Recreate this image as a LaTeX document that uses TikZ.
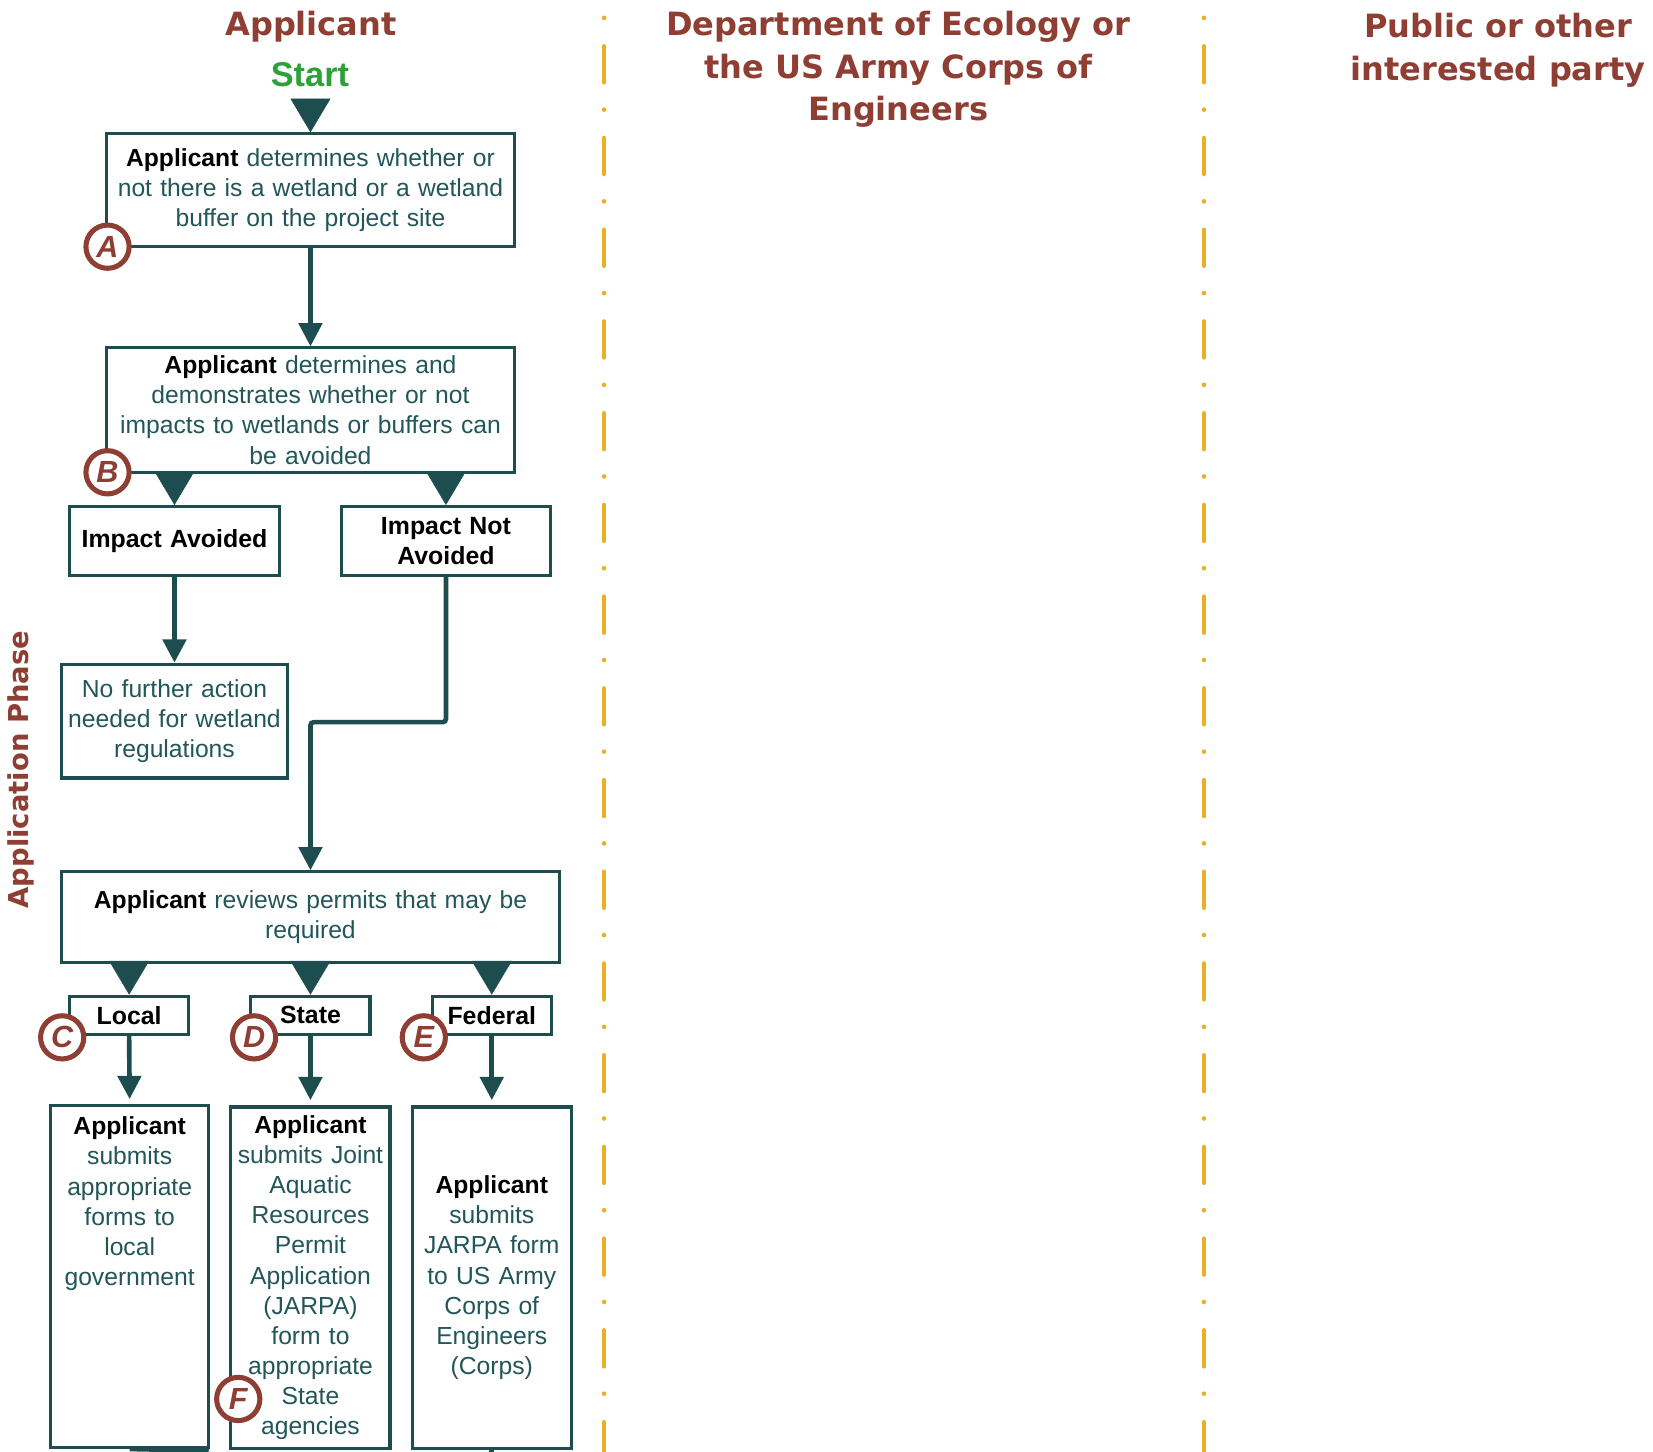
\documentclass[tikz,border=0pt]{standalone}
\usepackage{fontspec}
\setmainfont{Liberation Sans}
\newfontfamily\hdrfont{DejaVu Sans}
\usetikzlibrary{arrows.meta}
\definecolor{tealc}{HTML}{1D4D4F}
\definecolor{tealtext}{HTML}{22575A}
\definecolor{brownc}{HTML}{8E3E33}
\definecolor{greenc}{HTML}{2EA03A}
\definecolor{yelc}{HTML}{EBAF24}
\newcommand{\appl}{\textcolor{black}{\textbf{Applicant}}}
\begin{document}
\begin{tikzpicture}[x=0.5pt,y=-0.5pt,
  box/.style={draw=tealc, line width=1.5pt, fill=white, inner sep=0pt, align=center, text=tealtext, font=\fontsize{11.7}{14.3}\selectfont},
  plain/.style={inner sep=0pt, align=center, text=tealtext, font=\fontsize{11.7}{14.3}\selectfont},
  bbox/.style={box, text=black, font=\bfseries\fontsize{11.8}{14.3}\selectfont},
  lbl/.style={circle, draw=brownc, line width=2.4pt, fill=white, minimum size=20.5pt, inner sep=0pt, text=brownc, font=\fontsize{14.5}{15}\selectfont\bfseries\itshape},
  conn/.style={draw=tealc, line width=2.2pt, -{Triangle[width=11pt,length=11pt]}},
  bigtip/.style={draw=tealc, fill=tealc, line width=0.2pt, -{Triangle[width=19pt,length=16pt]}},
  hdr/.style={text=brownc, font=\hdrfont\bfseries\fontsize{15.2}{20.25}\selectfont, align=center},
  lane/.style={draw=yelc, line width=2.2pt, line cap=round, dash pattern=on 0pt off 13.5pt on 17pt off 13pt}
]
\useasboundingbox (0,0) rectangle (1568,1377);

% swimlane separators
\coordinate (l1t) at (573,17);
\coordinate (l1b) at (573,1377);
\coordinate (l2t) at (1142,17);
\coordinate (l2b) at (1142,1377);
\draw[lane] (l1t) -- (l1b);
\draw[lane] (l2t) -- (l2b);

% headers
\node[hdr] (hA) at (295,25) {Applicant};
\node[hdr] (hD) at (852,66) {Department of Ecology or\\the US Army Corps of\\Engineers};
\node[hdr] (hP) at (1421,48) {Public or other\\interested party};
\node[text=brownc, font=\hdrfont\bfseries\fontsize{13}{14}\selectfont, rotate=90] (phase) at (20,730) {Application Phase};
\node[text=greenc, font=\bfseries\fontsize{16.3}{18}\selectfont] (start) at (294,71) {Start};
\coordinate (st) at (294.5,95);

% boxes
\node[box, minimum width=193.5pt, minimum height=53.5pt, text width=190pt] (A) at (294.5,180.5)
  {\appl{} determines whether or\\not there is a wetland or a wetland\\buffer on the project site};
\node[box, minimum width=193.5pt, minimum height=59pt, text width=190pt] (B) at (294.5,389)
  {\appl{} determines and\\demonstrates whether or not\\impacts to wetlands or buffers can\\be avoided};
\node[bbox, minimum width=99.5pt, minimum height=32.5pt, text width=96pt] (IA) at (165.5,513) {Impact Avoided};
\node[bbox, minimum width=99pt, minimum height=32.5pt, text width=96pt] (INA) at (423,513) {Impact Not\\Avoided};
\node[box, minimum width=107.5pt, minimum height=54pt, text width=105pt] (NF) at (165.5,684)
  {No further action\\needed for wetland\\regulations};
\node[box, minimum width=236.5pt, minimum height=43pt, text width=230pt] (R) at (294.5,870)
  {\appl{} reviews permits that may be\\required};
\node[bbox, minimum width=56.5pt, minimum height=18pt, text width=54pt] (L) at (122.5,963) {Local};
\node[bbox, minimum width=56.5pt, minimum height=18pt, text width=54pt] (S) at (294.5,963) {State};
\node[bbox, minimum width=56.5pt, minimum height=18pt, text width=54pt] (F) at (466.5,963) {Federal};

\node[box, minimum width=75pt, minimum height=162pt] (Lf) at (123,1211) {};
\node[plain, anchor=north, text width=74pt] (Lt) at (123,1059)
  {\appl\\submits\\appropriate\\forms to\\local\\government};
\node[box, minimum width=75.5pt, minimum height=162pt, text width=74pt] (Sf) at (294.5,1212)
  {\appl\\submits Joint\\Aquatic\\Resources\\Permit\\Application\\(JARPA)\\form to\\appropriate\\State\\agencies};
\node[box, minimum width=75.5pt, minimum height=162pt, text width=74pt] (Ff) at (466.5,1212)
  {\appl\\submits\\JARPA form\\to US Army\\Corps of\\Engineers\\(Corps)};

% connectors
\draw[bigtip] (st) -- (A.north);
\draw[conn] (A.south) -- (B.north);
\draw[bigtip] (B.south -| IA.north) -- (IA.north);
\draw[bigtip] (B.south -| INA.north) -- (INA.north);
\draw[conn] (IA.south) -- (NF.north);
\coordinate (bend) at (0,685);
\draw[conn, rounded corners=1.5pt] (INA.south) |- (bend -| R.north) -- (R.north);
\draw[bigtip] (R.south -| L.north) -- (L.north);
\draw[bigtip] (R.south -| S.north) -- (S.north);
\draw[bigtip] (R.south -| F.north) -- (F.north);
\draw[conn, shorten >=2.5pt] (L.south) -- (Lf.north);
\draw[conn, shorten >=2.5pt] (S.south) -- (Sf.north);
\draw[conn, shorten >=2.5pt] (F.south) -- (Ff.north);
\coordinate (lstub) at (198,1376);
\coordinate (fstub) at (466.5,1380);
\draw[draw=tealc, line width=2.2pt] (Lf.south) -- (lstub);
\draw[draw=tealc, line width=2.2pt] (Ff.south) -- (fstub);

% step labels
\node[lbl] (cA) at (102,234) {A};
\node[lbl] (cB) at (102,448) {B};
\node[lbl] (cC) at (59,984) {C};
\node[lbl] (cD) at (241,984) {D};
\node[lbl] (cE) at (402,984) {E};
\node[lbl] (cF) at (226,1327) {F};
\end{tikzpicture}
\end{document}
